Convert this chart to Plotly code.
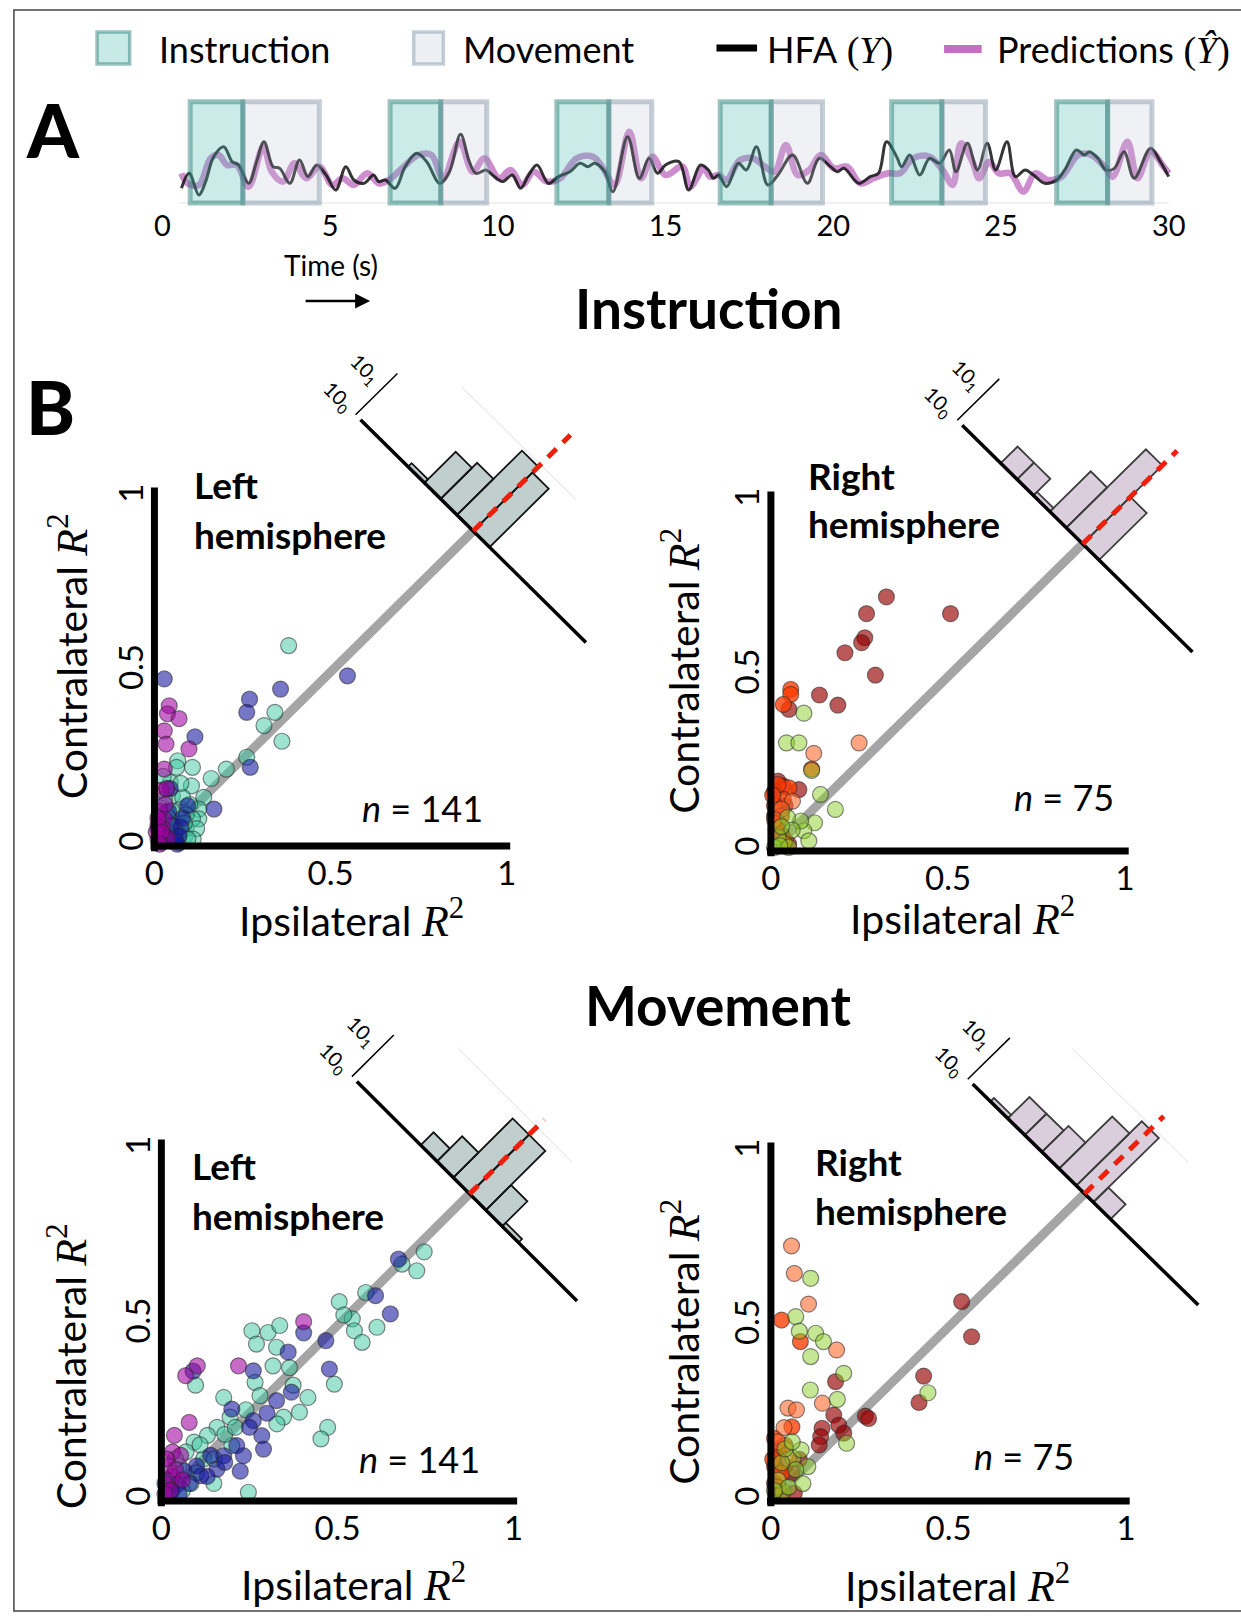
import math
import plotly.graph_objects as go

W, H = 1241, 1619
FONT = "Lato"
SERIF = "Liberation Serif"
SQ2 = math.sqrt(2)

# ------------------------------------------------------------------ Panel A data
time_ticks = [0, 5, 10, 15, 20, 25, 30]
instr_start = [0.83, 6.79, 11.76, 16.63, 21.74, 26.66]
instr_end = [2.40, 8.30, 13.31, 18.15, 23.24, 28.18]
move_end = [4.68, 9.67, 14.59, 19.68, 24.54, 29.50]

hfa_t = [0.57, 0.80, 1.09, 1.29, 1.53, 1.83, 2.08, 2.27, 2.57, 2.81,
         3.03, 3.30, 3.50, 3.80, 4.09, 4.34, 4.60, 4.88, 5.17, 5.47,
         5.71, 6.01, 6.30, 6.45, 6.65, 6.94, 7.24, 7.58, 7.88, 8.27,
         8.56, 8.89, 9.15, 9.35, 9.65, 9.84, 10.14, 10.43, 10.68, 10.92,
         11.17, 11.51, 11.81, 12.15, 12.45, 12.69, 12.89, 13.19, 13.43, 13.87,
         14.22, 14.51, 14.76, 15.00,
         15.40, 15.69, 16.04, 16.28, 16.43, 16.58, 16.82, 17.17, 17.41, 17.71,
         18.05, 18.35, 18.79, 19.23, 19.58, 19.92, 20.12, 20.32, 20.76, 21.10,
         21.35, 21.59, 21.89, 22.04, 22.28, 22.58, 22.87, 23.17, 23.46, 23.66,
         24.00, 24.30, 24.59, 24.84, 25.18, 25.43, 25.72, 25.97, 26.31, 26.66,
         26.90, 27.25, 27.49, 27.64, 27.89, 28.13, 28.38, 28.67, 28.97, 29.46,
         29.75, 30.00]
hfa_v = [0.145, 0.293, 0.079, 0.211, 0.457, 0.556, 0.408, 0.375, 0.194, 0.408,
         0.605, 0.359, 0.342, 0.194, 0.424, 0.260, 0.375, 0.276, 0.128, 0.359,
         0.227, 0.194, 0.276, 0.211, 0.227, 0.145, 0.359, 0.490, 0.408, 0.194,
         0.309, 0.678, 0.408, 0.293, 0.326, 0.276, 0.211, 0.276, 0.145, 0.276,
         0.375, 0.194, 0.260, 0.309, 0.392, 0.359, 0.392, 0.309, 0.112, 0.655,
         0.244, 0.441, 0.293, 0.375,
         0.408, 0.128, 0.375, 0.326, 0.244, 0.276, 0.161, 0.392, 0.326, 0.556,
         0.178, 0.276, 0.474, 0.194, 0.441, 0.359, 0.309, 0.342, 0.194, 0.260,
         0.293, 0.605, 0.457, 0.359, 0.474, 0.276, 0.441, 0.392, 0.523, 0.309,
         0.589, 0.326, 0.589, 0.326, 0.605, 0.260, 0.326, 0.276, 0.194, 0.227,
         0.326, 0.523, 0.474, 0.507, 0.441, 0.326, 0.342, 0.507, 0.244, 0.540,
         0.408, 0.260]
pred_t = [0.57, 0.75, 1.09, 1.44, 1.68, 1.93, 2.22, 2.57, 3.01, 3.26,
          3.60, 3.94, 4.29, 4.68, 5.07, 5.37, 5.71, 6.11, 6.45, 6.75,
          7.14, 7.63, 8.02, 8.37, 8.86, 9.25, 9.60, 10.04, 10.38, 10.73,
          11.07, 11.47, 11.86, 12.35, 12.84, 13.14, 13.48, 13.92, 14.27, 14.61,
          15.00,
          15.50, 15.74, 16.14, 16.33, 16.58, 16.82, 17.22, 17.61, 17.96, 18.25,
          18.59, 18.94, 19.28, 19.63, 20.02, 20.41, 20.81, 21.20, 21.64, 21.99,
          22.38, 22.87, 23.26, 23.56, 23.81, 24.15, 24.35, 24.64, 24.94, 25.28,
          25.67, 26.02, 26.41, 26.81, 27.30, 27.69, 28.08, 28.33, 28.77, 29.07,
          29.46, 29.85, 30.00]
pred_v = [0.293, 0.194, 0.178, 0.441, 0.474, 0.375, 0.375, 0.161, 0.556, 0.309,
          0.211, 0.392, 0.244, 0.359, 0.178, 0.244, 0.178, 0.293, 0.194, 0.227,
          0.342, 0.474, 0.474, 0.244, 0.605, 0.309, 0.441, 0.244, 0.326, 0.178,
          0.309, 0.211, 0.244, 0.441, 0.457, 0.342, 0.178, 0.704, 0.244, 0.457,
          0.276,
          0.359, 0.161, 0.342, 0.260, 0.276, 0.227, 0.424, 0.441, 0.359, 0.309,
          0.573, 0.276, 0.326, 0.474, 0.342, 0.359, 0.194, 0.244, 0.293, 0.293,
          0.441, 0.457, 0.326, 0.178, 0.589, 0.408, 0.244, 0.408, 0.293, 0.293,
          0.112, 0.293, 0.227, 0.260, 0.474, 0.474, 0.359, 0.260, 0.605, 0.244,
          0.507, 0.359, 0.293]

# ------------------------------------------------------------------ Panel B data
r2_ticks = [0, 0.5, 1]
r2_ticktext = ["0", "0.5", "1"]

# Instruction - left hemisphere (ipsilateral R2, contralateral R2)
il_teal = [(0.381, 0.576), (0.342, 0.384), (0.311, 0.346), (0.362, 0.301), (0.262, 0.255),
           (0.204, 0.221), (0.161, 0.194), (0.108, 0.226), (0.066, 0.245), (0.063, 0.226),
           (0.105, 0.173), (0.140, 0.140), (0.126, 0.106), (0.126, 0.078), (0.045, 0.183),
           (0.051, 0.145), (0.075, 0.106), (0.028, 0.135), (0.033, 0.095), (0.087, 0.030),
           (0.059, 0.025), (0.108, 0.078), (0.020, 0.060), (0.040, 0.040), (0.060, 0.070),
           (0.090, 0.050), (0.030, 0.020), (0.070, 0.010), (0.050, 0.100), (0.100, 0.120),
           (0.080, 0.140), (0.015, 0.110), (0.035, 0.165), (0.090, 0.090), (0.120, 0.050),
           (0.020, 0.030), (0.060, 0.040), (0.110, 0.020), (0.040, 0.080), (0.075, 0.180),
           (0.095, 0.020), (0.055, 0.055), (0.085, 0.065), (0.045, 0.015), (0.025, 0.200)]
il_blue = [(0.548, 0.489), (0.358, 0.451), (0.270, 0.422), (0.262, 0.384), (0.272, 0.226),
           (0.115, 0.314), (0.028, 0.480), (0.169, 0.106), (0.094, 0.116), (0.075, 0.054),
           (0.060, 0.015), (0.030, 0.030), (0.050, 0.060), (0.070, 0.030), (0.020, 0.010),
           (0.040, 0.100), (0.080, 0.080), (0.010, 0.050), (0.045, 0.165), (0.065, 0.005)]
il_mag = [(0.042, 0.403), (0.037, 0.380), (0.070, 0.366), (0.028, 0.331), (0.033, 0.293),
          (0.098, 0.279), (0.028, 0.221), (0.028, 0.078), (0.024, 0.050), (0.037, 0.022),
          (0.010, 0.060), (0.015, 0.100), (0.020, 0.160), (0.010, 0.020), (0.030, 0.120),
          (0.005, 0.040), (0.035, 0.165), (0.010, 0.080), (0.020, 0.040), (0.015, 0.005)]
il_hist_edges = [0.37, 0.2775, 0.185, 0.0925, 0.0, -0.0925]
il_hist_counts = [1, 7, 10, 74, 49]

# Instruction - right hemisphere
ir_darkred = [(0.326, 0.728), (0.507, 0.680), (0.270, 0.680), (0.265, 0.611), (0.256, 0.597),
              (0.209, 0.568), (0.295, 0.504), (0.137, 0.447), (0.189, 0.418), (0.051, 0.406),
              (0.035, 0.186), (0.079, 0.176), (0.020, 0.200), (0.010, 0.170), (0.030, 0.050),
              (0.050, 0.020), (0.010, 0.100), (0.040, 0.130)]
ir_orange = [(0.056, 0.463), (0.056, 0.449), (0.035, 0.420), (0.051, 0.181), (0.035, 0.148),
             (0.020, 0.190), (0.010, 0.130), (0.030, 0.100), (0.015, 0.060), (0.040, 0.030),
             (0.005, 0.160), (0.020, 0.080), (0.115, 0.235)]
ir_coral = [(0.249, 0.310), (0.121, 0.280), (0.061, 0.143), (0.030, 0.120), (0.010, 0.090)]
ir_green = [(0.093, 0.395), (0.044, 0.310), (0.079, 0.310), (0.115, 0.231), (0.140, 0.162),
            (0.182, 0.119), (0.123, 0.081), (0.093, 0.058), (0.107, 0.029), (0.084, 0.086),
            (0.047, 0.096), (0.037, 0.024), (0.020, 0.040), (0.060, 0.060), (0.010, 0.010),
            (0.030, 0.070), (0.050, 0.010), (0.025, 0.015)]
ir_hist_edges = [0.4625, 0.37, 0.2775, 0.185, 0.0925, 0.0, -0.0925]
ir_hist_counts = [2, 2, 1, 7, 53, 10]

# Movement - left hemisphere
ml_teal = [(0.746, 0.710), (0.725, 0.656), (0.683, 0.675), (0.505, 0.568), (0.580, 0.594),
           (0.542, 0.519), (0.548, 0.485), (0.570, 0.452), (0.612, 0.495), (0.518, 0.530),
           (0.257, 0.485), (0.303, 0.480), (0.336, 0.500), (0.270, 0.447), (0.327, 0.438),
           (0.317, 0.385), (0.364, 0.380), (0.266, 0.338), (0.491, 0.333), (0.374, 0.330),
           (0.416, 0.295), (0.392, 0.253), (0.347, 0.239), (0.328, 0.220), (0.177, 0.295),
           (0.195, 0.239), (0.472, 0.210), (0.453, 0.177), (0.097, 0.330), (0.247, 0.025),
           (0.158, 0.210), (0.131, 0.187), (0.093, 0.168), (0.149, 0.050), (0.084, 0.050),
           (0.200, 0.158), (0.050, 0.100), (0.070, 0.140), (0.030, 0.060), (0.100, 0.080),
           (0.120, 0.120), (0.060, 0.030), (0.020, 0.020), (0.040, 0.120), (0.110, 0.160),
           (0.150, 0.120), (0.180, 0.190), (0.240, 0.260), (0.280, 0.300), (0.210, 0.210)]
ml_blue = [(0.673, 0.689), (0.608, 0.585), (0.650, 0.533), (0.404, 0.479), (0.467, 0.457),
           (0.360, 0.424), (0.477, 0.376), (0.261, 0.371), (0.369, 0.310), (0.327, 0.286),
           (0.200, 0.262), (0.261, 0.229), (0.285, 0.186), (0.290, 0.148), (0.233, 0.129),
           (0.177, 0.129), (0.214, 0.158), (0.158, 0.091), (0.112, 0.072), (0.224, 0.085),
           (0.065, 0.085), (0.046, 0.048), (0.030, 0.030), (0.080, 0.050), (0.100, 0.100),
           (0.130, 0.070), (0.050, 0.020), (0.020, 0.060), (0.180, 0.110), (0.250, 0.210),
           (0.300, 0.250), (0.140, 0.130), (0.090, 0.370)]
ml_mag = [(0.404, 0.511), (0.219, 0.385), (0.102, 0.385), (0.069, 0.357), (0.079, 0.224),
          (0.037, 0.187), (0.032, 0.140), (0.055, 0.130), (0.020, 0.100), (0.030, 0.070),
          (0.010, 0.050), (0.040, 0.090), (0.015, 0.120), (0.025, 0.030), (0.060, 0.060),
          (0.010, 0.020)]
ml_hist_edges = [0.2775, 0.185, 0.0925, 0.0, -0.0925, -0.185, -0.2775]
ml_hist_counts = [2, 5, 64, 64, 5, 1]

# Movement - right hemisphere
mr_darkred = [(0.537, 0.573), (0.565, 0.472), (0.430, 0.359), (0.417, 0.283), (0.266, 0.244),
              (0.275, 0.237), (0.182, 0.343), (0.177, 0.247), (0.191, 0.218), (0.205, 0.195),
              (0.144, 0.209), (0.140, 0.185), (0.136, 0.161), (0.066, 0.022), (0.020, 0.150),
              (0.040, 0.100), (0.010, 0.050), (0.060, 0.080), (0.030, 0.020), (0.080, 0.120)]
mr_orange = [(0.030, 0.520), (0.083, 0.458), (0.059, 0.213), (0.010, 0.180), (0.020, 0.140),
             (0.010, 0.100), (0.030, 0.080), (0.020, 0.040), (0.040, 0.160), (0.005, 0.120)]
mr_coral = [(0.058, 0.733), (0.066, 0.654), (0.106, 0.566), (0.185, 0.434), (0.145, 0.281),
            (0.048, 0.267), (0.072, 0.262), (0.037, 0.211), (0.020, 0.170), (0.050, 0.120)]
mr_green = [(0.112, 0.640), (0.070, 0.530), (0.080, 0.488), (0.126, 0.482), (0.148, 0.458),
            (0.112, 0.415), (0.205, 0.367), (0.111, 0.319), (0.187, 0.292), (0.442, 0.311),
            (0.213, 0.166), (0.062, 0.123), (0.085, 0.147), (0.104, 0.099), (0.034, 0.026),
            (0.020, 0.060), (0.050, 0.040), (0.070, 0.090), (0.030, 0.110), (0.010, 0.030),
            (0.090, 0.050), (0.040, 0.150), (0.060, 0.170)]
mr_hist_edges = [0.53, 0.433, 0.337, 0.240, 0.144, 0.047, -0.049, -0.146]
mr_hist_counts = [1, 3, 3, 4, 20, 42, 2]

# ------------------------------------------------------------------ helpers
def xd(px):
    return px / W


def yd(py):
    return 1 - py / H


fig = go.Figure()
shapes = []
annotations = []
layout_axes = {}

# ------------------------------------------------------------------ Panel A
A_T0, A_PXS = 158.0, 33.9
A_V0, A_PYS = 203.0, 101.3
a_xr = [-0.2, 30.3]
a_yr = [-0.03, 1.06]
layout_axes["xaxis"] = dict(domain=[xd(A_T0 + a_xr[0] * A_PXS), xd(A_T0 + a_xr[1] * A_PXS)],
                            range=a_xr, tickvals=time_ticks, ticktext=[str(v) for v in time_ticks],
                            showgrid=False, zeroline=False, showline=False, ticks="",
                            tickfont=dict(size=29, family=FONT, color="black"), anchor="y")
layout_axes["yaxis"] = dict(domain=[yd(A_V0 - a_yr[0] * A_PYS), yd(A_V0 - a_yr[1] * A_PYS)],
                            range=a_yr, visible=False, anchor="x")

fig.add_trace(go.Scatter(x=[0.5, 30.0], y=[0, 0], mode="lines", xaxis="x", yaxis="y",
                         line=dict(color="rgba(200,200,200,0.35)", width=1.5), hoverinfo="skip"))
fig.add_trace(go.Scatter(x=pred_t, y=pred_v, mode="lines", xaxis="x", yaxis="y",
                         line=dict(color="rgba(180,80,180,0.65)", width=6.5, shape="spline", smoothing=1.0),
                         hoverinfo="skip"))
fig.add_trace(go.Scatter(x=hfa_t, y=hfa_v, mode="lines", xaxis="x", yaxis="y",
                         line=dict(color="rgba(25,25,25,0.88)", width=3, shape="spline", smoothing=1.0),
                         hoverinfo="skip"))

MOVE_FILL, MOVE_LINE = "rgba(180,190,210,0.22)", "rgba(120,140,160,0.42)"
INST_FILL, INST_LINE = "rgba(80,190,180,0.30)", "rgba(30,120,110,0.45)"
for s, e, m in zip(instr_start, instr_end, move_end):
    shapes.append(dict(type="rect", xref="x", yref="y", x0=e, x1=m, y0=0, y1=1,
                       fillcolor=MOVE_FILL, line=dict(color=MOVE_LINE, width=5), layer="above"))
for s, e in zip(instr_start, instr_end):
    shapes.append(dict(type="rect", xref="x", yref="y", x0=s, x1=e, y0=0, y1=1,
                       fillcolor=INST_FILL, line=dict(color=INST_LINE, width=5), layer="above"))

# ------------------------------------------------------------------ Panel B helpers
COL = {
    "teal": "rgba(60,200,160,0.50)",
    "blue": "rgba(20,20,160,0.58)",
    "mag": "rgba(160,0,160,0.58)",
    "darkred": "rgba(150,0,0,0.65)",
    "orange": "rgba(255,60,0,0.78)",
    "coral": "rgba(255,100,40,0.58)",
    "green": "rgba(140,205,40,0.50)",
}
H0_PX = 5.0
S_PX = 352.0
XR = [-0.011, 1.3]
YR = [-0.015, 1.4]


def hpt(D, h, d0):
    return d0 - D / 2 + h / SQ2, d0 + D / 2 + h / SQ2


def add_panel(idx, x0, y0, sx, sy, groups, edges, counts, dpx, d0, dmin, dmax, hred,
              hist_fill, hist_line, top_line):
    xa, ya = "x%d" % idx, "y%d" % idx
    layout_axes["xaxis%d" % idx] = dict(
        domain=[xd(x0 + XR[0] * sx), min(1.0, xd(x0 + XR[1] * sx))], range=XR, anchor=ya,
        tickvals=r2_ticks, ticktext=r2_ticktext, showgrid=False, zeroline=False, showline=False,
        ticks="", tickfont=dict(size=33, family=FONT, color="black"))
    layout_axes["yaxis%d" % idx] = dict(
        domain=[yd(y0 - YR[0] * sy), yd(y0 - YR[1] * sy)], range=YR, anchor=xa,
        tickvals=r2_ticks, ticktext=r2_ticktext, showgrid=False, zeroline=False, showline=False,
        ticks="", tickangle=-90, tickfont=dict(size=33, family=FONT, color="black"))

    # identity line
    fig.add_trace(go.Scatter(x=[0, d0], y=[0, d0], mode="lines", xaxis=xa, yaxis=ya,
                             line=dict(color="rgb(165,165,165)", width=9), hoverinfo="skip"))
    # points
    for pts, key in groups:
        fig.add_trace(go.Scatter(
            x=[p[0] for p in pts], y=[p[1] for p in pts], mode="markers", xaxis=xa, yaxis=ya,
            cliponaxis=False,
            marker=dict(size=16, color=COL[key], line=dict(color="rgba(40,40,40,0.55)", width=1.2)),
            hoverinfo="skip"))
    # faint top line of histogram frame
    if top_line:
        p1, p2 = hpt(0.45, 0.27, d0), hpt(-0.2, 0.27, d0)
        fig.add_trace(go.Scatter(x=[p1[0], p2[0]], y=[p1[1], p2[1]], mode="lines", xaxis=xa, yaxis=ya,
                                 line=dict(color="rgba(200,200,200,0.6)", width=1), hoverinfo="skip"))
    # histogram bars (log counts) perpendicular to the identity line
    bx, by = [], []
    for i, c in enumerate(counts):
        D1, D2 = edges[i], edges[i + 1]
        hh = (H0_PX + dpx * math.log10(c)) / S_PX
        for D, h in [(D1, 0), (D1, hh), (D2, hh), (D2, 0), (D1, 0)]:
            px, py = hpt(D, h, d0)
            bx.append(px)
            by.append(py)
        bx.append(None)
        by.append(None)
    fig.add_trace(go.Scatter(x=bx, y=by, mode="lines", fill="toself", fillcolor=hist_fill,
                             xaxis=xa, yaxis=ya, line=dict(color=hist_line, width=1.8),
                             hoverinfo="skip"))
    # histogram base axis
    p1, p2 = hpt(dmax, 0, d0), hpt(dmin, 0, d0)
    fig.add_trace(go.Scatter(x=[p1[0], p2[0]], y=[p1[1], p2[1]], mode="lines", xaxis=xa, yaxis=ya,
                             line=dict(color="black", width=3.5), hoverinfo="skip"))
    # count axis (log)
    dc = dmax + 0.028
    p1, p2 = hpt(dc, 0, d0), hpt(dc, 0.168, d0)
    fig.add_trace(go.Scatter(x=[p1[0], p2[0]], y=[p1[1], p2[1]], mode="lines", xaxis=xa, yaxis=ya,
                             line=dict(color="black", width=1.5), hoverinfo="skip"))
    for lab, h in [("10<sub>0</sub>", 0.0), ("10<sub>1</sub>", 0.11)]:
        lx, ly = hpt(dc + 0.104, h, d0)
        annotations.append(dict(xref=xa, yref=ya, x=lx, y=ly, text=lab, showarrow=False,
                                textangle=45, font=dict(size=20, family=FONT, color="black")))
    # red dashed (zero difference)
    p1, p2 = hpt(0, 0, d0), hpt(0, hred, d0)
    fig.add_trace(go.Scatter(x=[p1[0], p2[0]], y=[p1[1], p2[1]], mode="lines", xaxis=xa, yaxis=ya,
                             line=dict(color="rgb(240,30,10)", width=5, dash="12px,9px"),
                             hoverinfo="skip"))
    # thick spines
    fig.add_trace(go.Scatter(x=[0, 0], y=[-0.02, 1.03], mode="lines", xaxis=xa, yaxis=ya,
                             line=dict(color="black", width=7), hoverinfo="skip"))
    fig.add_trace(go.Scatter(x=[-0.02, 1.01], y=[0, 0], mode="lines", xaxis=xa, yaxis=ya,
                             line=dict(color="black", width=7), hoverinfo="skip"))


HIST_GREEN, HIST_PURP = "rgb(192,207,205)", "rgb(218,206,220)"

add_panel(2, 150, 846, 356, 348, [(il_teal, "teal"), (il_blue, "blue"), (il_mag, "mag")],
          il_hist_edges, il_hist_counts, 46.5, 0.905, -0.64, 0.64, 0.39,
          HIST_GREEN, "rgb(20,20,20)", True)
add_panel(3, 773, 851, 358, 349, [(ir_darkred, "darkred"), (ir_orange, "orange"),
                                  (ir_coral, "coral"), (ir_green, "green")],
          ir_hist_edges, ir_hist_counts, 62.0, 0.88, -0.62, 0.68, 0.377,
          HIST_PURP, "rgb(60,60,60)", False)
add_panel(4, 157, 1501, 356, 351, [(ml_teal, "teal"), (ml_blue, "blue"), (ml_mag, "mag")],
          ml_hist_edges, ml_hist_counts, 43.7, 0.875, -0.61, 0.64, 0.30,
          HIST_GREEN, "rgb(20,20,20)", True)
add_panel(5, 773, 1501, 359, 348, [(mr_darkred, "darkred"), (mr_orange, "orange"),
                                   (mr_coral, "coral"), (mr_green, "green")],
          mr_hist_edges, mr_hist_counts, 53.5, 0.883, -0.64, 0.63, 0.315,
          HIST_PURP, "rgb(60,60,60)", True)

# ------------------------------------------------------------------ text
R2 = '<span style="font-family:%s;font-size:44px"><i>R</i><sup>2</sup></span>' % SERIF


def ann(px, py, text, size, bold=False, xanchor="center", angle=0, yanchor="middle", weight=None):
    w = weight if weight is not None else ("bold" if bold else "normal")
    annotations.append(dict(xref="paper", yref="paper", x=xd(px), y=yd(py), text=text,
                            showarrow=False, xanchor=xanchor, yanchor=yanchor, textangle=angle,
                            font=dict(size=size, family=FONT, color="black", weight=w)))


panel_text = [
    ((188, 485), "Left", (188, 534), (421, 808), "141", (349, 919), (63, 656)),
    ((808, 475), "Right", (808, 523), (1069, 797), "75", (967, 916), (682, 671)),
    ((186, 1165), "Left", (186, 1215), (418, 1459), "141", (351, 1582), (62, 1366)),
    ((816, 1161), "Right", (816, 1210), (1029, 1456), "75", (962, 1583), (682, 1342)),
]
for l1, w1, l2, npos, ntxt, ipos, cpos in panel_text:
    ann(l1[0], l1[1], w1, 37, bold=True, xanchor="left")
    ann(l2[0], l2[1], "hemisphere", 37, bold=True, xanchor="left")
    ann(npos[0], npos[1], "<i>n</i> = " + ntxt, 36)
    ann(ipos[0], ipos[1], "Ipsilateral " + R2, 41)
    ann(cpos[0], cpos[1], "Contralateral " + R2, 41, angle=-90)

ann(710, 308, "Instruction", 55, bold=True)
ann(720, 1005, "Movement", 55, bold=True)
ann(48, 130, "A", 74, weight=900)
ann(45, 406, "B", 74, weight=900)
ann(328, 265, "Time (s)", 28)
annotations.append(dict(xref="paper", yref="paper", x=xd(368), y=yd(301), ax=-66, ay=0,
                        axref="pixel", ayref="pixel", text="", showarrow=True, arrowhead=2,
                        arrowsize=1.2, arrowwidth=2.5, arrowcolor="black"))

# legend (manual)
shapes.append(dict(type="rect", xref="paper", yref="paper", x0=xd(92), x1=xd(125), y0=yd(64), y1=yd(32),
                   fillcolor="rgba(80,190,180,0.32)", line=dict(color=INST_LINE, width=3.5)))
shapes.append(dict(type="rect", xref="paper", yref="paper", x0=xd(412), x1=xd(442), y0=yd(64), y1=yd(32),
                   fillcolor="rgba(180,190,210,0.25)", line=dict(color=MOVE_LINE, width=3.5)))
shapes.append(dict(type="line", xref="paper", yref="paper", x0=xd(718), x1=xd(759), y0=yd(48), y1=yd(48),
                   line=dict(color="black", width=7)))
shapes.append(dict(type="line", xref="paper", yref="paper", x0=xd(948), x1=xd(986), y0=yd(49), y1=yd(49),
                   line=dict(color="rgb(196,112,190)", width=8)))
LEG_SERIF = '<span style="font-family:%s;font-size:38px"> (<i>%s</i>)</span>'
ann(153, 49, "Instruction", 36, xanchor="left")
ann(460, 49, "Movement", 36, xanchor="left")
ann(767, 49, "HFA" + LEG_SERIF % (SERIF, "Y"), 36, xanchor="left")
ann(999, 49, "Predictions" + LEG_SERIF % (SERIF, "Ŷ"), 36, xanchor="left")

# frame
shapes.append(dict(type="rect", xref="paper", yref="paper", x0=xd(8), x1=1.02, y0=yd(1611), y1=yd(10),
                   line=dict(color="rgb(70,70,70)", width=1.5), fillcolor="rgba(0,0,0,0)", layer="below"))

fig.update_layout(width=W, height=H, margin=dict(l=0, r=0, t=0, b=0),
                  paper_bgcolor="white", plot_bgcolor="white", showlegend=False,
                  font=dict(family=FONT, color="black"),
                  shapes=shapes, annotations=annotations, **layout_axes)

fig.write_html("out.html", config={"displayModeBar": False},
               post_script="document.body.style.margin='0px';")
